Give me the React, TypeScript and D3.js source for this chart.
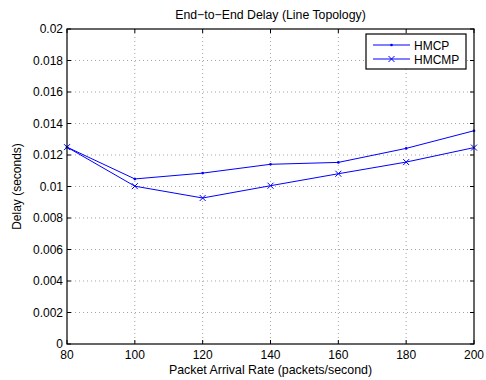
import React from "react";
import * as d3 from "d3";

const rates = [80, 100, 120, 140, 160, 180, 200];
const hmcp = [0.0125, 0.01048, 0.01085, 0.01141, 0.01153, 0.01242, 0.01354];
const hmcmp = [0.0125, 0.01002, 0.00927, 0.01005, 0.01081, 0.01155, 0.01247];
const xTicks = [80, 100, 120, 140, 160, 180, 200];
const yTicks = [0, 0.002, 0.004, 0.006, 0.008, 0.01, 0.012, 0.014, 0.016, 0.018, 0.02];
const seriesNames = ["HMCP", "HMCMP"];

const W = 486, H = 380;
const L = 67, R = 474, T = 29, B = 344;
const FONT = "'Liberation Sans', Arial, Helvetica, sans-serif";

export default function App() {
  const x = d3.scaleLinear().domain([80, 200]).range([L, R]);
  const y = d3.scaleLinear().domain([0, 0.02]).range([B, T]);
  const line = d3.line<[number, number]>().x(d => x(d[0])).y(d => y(d[1]));
  const d1 = line(rates.map((r, i) => [r, hmcp[i]] as [number, number])) || "";
  const d2 = line(rates.map((r, i) => [r, hmcmp[i]] as [number, number])) || "";
  const blue = "#0000ff";
  const tickLen = 4;
  const xMark = (cx: number, cy: number, s = 3, k = "") => (
    <path key={k} d={`M${cx - s},${cy - s}L${cx + s},${cy + s}M${cx - s},${cy + s}L${cx + s},${cy - s}`} stroke={blue} strokeWidth={1} fill="none" />
  );
  return (
    <svg width={W} height={H} style={{ position: "absolute", left: 0, top: 0, background: "#fff" }}>
      <rect x={0} y={0} width={W} height={H} fill="#fff" />
      {/* grid */}
      <g stroke="#000" strokeWidth={0.5} strokeDasharray="1 3" opacity={0.7}>
        {xTicks.slice(1, -1).map(t => (
          <line key={"gx" + t} x1={x(t)} x2={x(t)} y1={T} y2={B} />
        ))}
        {yTicks.slice(1, -1).map(t => (
          <line key={"gy" + t} x1={L} x2={R} y1={y(t)} y2={y(t)} />
        ))}
      </g>
      {/* ticks */}
      <g stroke="#000" strokeWidth={1}>
        {xTicks.map(t => (
          <g key={"tx" + t}>
            <line x1={x(t)} x2={x(t)} y1={B} y2={B - tickLen} />
            <line x1={x(t)} x2={x(t)} y1={T} y2={T + tickLen} />
          </g>
        ))}
        {yTicks.map(t => (
          <g key={"ty" + t}>
            <line x1={L} x2={L + tickLen} y1={y(t)} y2={y(t)} />
            <line x1={R} x2={R - tickLen} y1={y(t)} y2={y(t)} />
          </g>
        ))}
      </g>
      {/* lines */}
      <path d={d1} fill="none" stroke={blue} strokeWidth={1} />
      <path d={d2} fill="none" stroke={blue} strokeWidth={1} />
      {rates.map((r, i) => (
        <circle key={"p1" + r} cx={x(r)} cy={y(hmcp[i])} r={1.3} fill={blue} />
      ))}
      {rates.map((r, i) => xMark(x(r), y(hmcmp[i]), 3, "p2" + r))}
      {/* box */}
      <rect x={L} y={T} width={R - L} height={B - T} fill="none" stroke="#000" strokeWidth={1.2} />
      {/* tick labels */}
      <g fontFamily={FONT} fontSize={12} fill="#000">
        {xTicks.map(t => (
          <text key={"lx" + t} x={x(t)} y={B + 15} textAnchor="middle">{t}</text>
        ))}
        {yTicks.map(t => (
          <text key={"ly" + t} x={L - 4} y={y(t) + 4} textAnchor="end">{d3.format("~g")(t)}</text>
        ))}
        <text x={(L + R) / 2} y={B + 30} textAnchor="middle" fontSize={12.4}>Packet Arrival Rate (packets/second)</text>
        <text transform={`translate(${L - 46},${(T + B) / 2}) rotate(-90)`} textAnchor="middle">Delay (seconds)</text>
        <text x={(L + R) / 2} y={T - 10} textAnchor="middle" fontSize={12.3}>End−to−End Delay (Line Topology)</text>
      </g>
      {/* legend */}
      <g>
        <rect x={366} y={34} width={100} height={35} fill="#fff" stroke="#000" strokeWidth={1.2} />
        <line x1={373} x2={410} y1={45} y2={45} stroke={blue} strokeWidth={1} />
        <circle cx={391.5} cy={45} r={1.3} fill={blue} />
        <line x1={373} x2={410} y1={59} y2={59} stroke={blue} strokeWidth={1} />
        {xMark(391.5, 59, 3, "lm")}
        <g fontFamily={FONT} fontSize={12} fill="#000">
          <text x={414} y={49.5}>{seriesNames[0]}</text>
          <text x={414} y={63.5}>{seriesNames[1]}</text>
        </g>
      </g>
    </svg>
  );
}
